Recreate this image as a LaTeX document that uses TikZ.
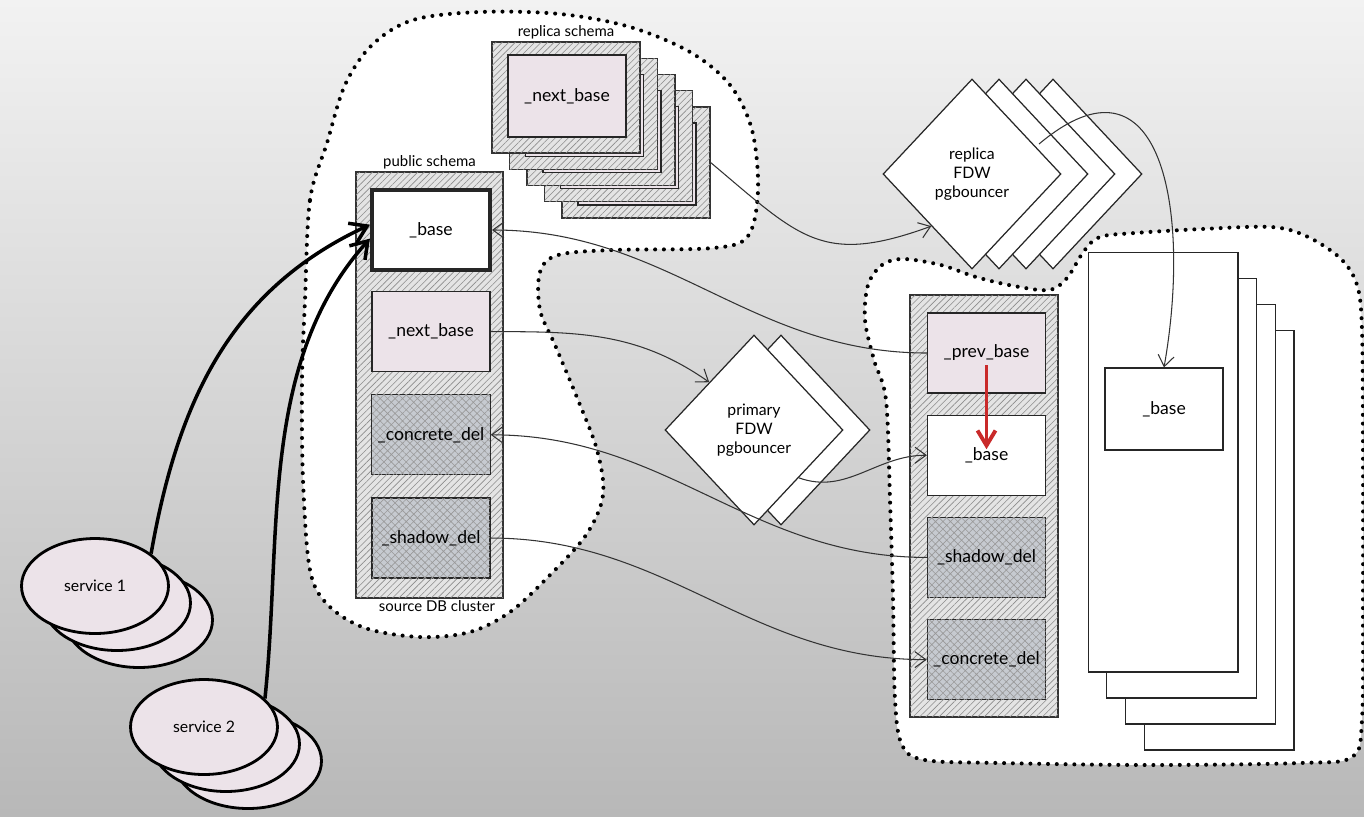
\documentclass[tikz,border=0pt]{standalone}
\usepackage{fontspec}
\setmainfont{Lato}
\usepackage{xcolor}
\usepackage{tikz}
\usetikzlibrary{shapes.geometric, arrows.meta, positioning, calc, patterns.meta}

\definecolor{bgtop}{RGB}{242,242,242}
\definecolor{bgbottom}{RGB}{184,184,184}
\definecolor{pinkfill}{RGB}{236,227,233}
\definecolor{hatchfill}{RGB}{228,228,228}
\definecolor{delfill}{RGB}{198,202,208}
\definecolor{redline}{RGB}{201,42,42}

\begin{document}
\begin{tikzpicture}[x=0.02cm, y=0.02cm, node distance=0.44cm, >=Straight Barb]
        \tikzstyle{cluster_style} = [draw=black, fill=white, line width=2.3pt, line cap=round, dash pattern=on 0pt off 5pt]
        \tikzstyle{column_style} = [rectangle, draw=black!80, line width=0.7pt, fill=hatchfill, postaction={pattern={Lines[angle=45, distance=2.6pt, line width=0.35pt]}, pattern color=black!45}]
        \tikzstyle{box_style} = [rectangle, draw=black!85, line width=0.7pt, minimum width=2.36cm, minimum height=1.6cm, text centered, font=\fontsize{10}{12}\selectfont]
        \tikzstyle{pink_style} = [box_style, fill=pinkfill]
        \tikzstyle{del_style} = [box_style, fill=delfill, postaction={pattern={Hatch[angle=45, distance=3pt, line width=0.35pt]}, pattern color=black!40}]
        \tikzstyle{fdw_style} = [diamond, draw=black!85, line width=0.7pt, fill=white, inner sep=0pt, minimum width=3.56cm, minimum height=3.8cm, align=center, font=\fontsize{9}{11}\selectfont]
        \tikzstyle{sheet_style} = [rectangle, draw=black!85, line width=0.6pt, fill=white, minimum width=3cm, minimum height=8.4cm]
        \tikzstyle{service_style} = [ellipse, draw=black, line width=1.6pt, fill=pinkfill, minimum width=2.94cm, minimum height=1.9cm, font=\fontsize{9}{11}\selectfont]
        \tikzstyle{title_style} = [inner sep=1pt, font=\fontsize{8.5}{10}\selectfont]
        \tikzstyle{link_style} = [draw=black!80, line width=0.6pt, -{Straight Barb[length=2.2mm, width=3.2mm]}]
        \tikzstyle{thick_arrow} = [draw=black, line width=2pt, -{Straight Barb[length=3.2mm, width=4.2mm]}]
        \tikzstyle{red_arrow} = [draw=redline, line width=2.2pt, -{Straight Barb[length=3mm, width=3.6mm]}]

        % Background
        \shade [top color=bgtop, bottom color=bgbottom] (0,0) rectangle (1364,-816);
        \useasboundingbox (0,0) rectangle (1364,-816);

        % Source cluster outline
        \draw [cluster_style] plot [smooth cycle, tension=0.55] coordinates {(305,-300) (310,-200) (327,-143) (345,-85) (372,-45) (413,-20) (480,-12) (560,-14) (630,-27) (690,-52) (730,-85) (752,-130) (758,-190) (748,-236) (713,-248) (613,-250) (558,-255) (540,-272) (540,-310) (555,-345) (578,-400) (597,-450) (603,-495) (586,-535) (548,-577) (510,-612) (470,-632) (420,-637) (365,-628) (328,-605) (310,-570) (303,-480) (302,-380)};

        % Target cluster outline
        \draw [cluster_style] plot [smooth cycle, tension=0.55] coordinates {(868,-285) (882,-265) (903,-259) (941,-265) (976,-277) (1014,-286) (1049,-290) (1067,-278) (1084,-251) (1100,-237) (1135,-233) (1202,-229) (1271,-227) (1306,-236) (1340,-258) (1357,-285) (1362,-330) (1363,-450) (1363,-600) (1362,-720) (1352,-757) (1300,-763) (1150,-765) (1000,-763) (925,-760) (902,-745) (895,-700) (893,-600) (890,-500) (886,-400) (874,-360) (865,-320)};

        % Public schema column
        \node (pcol) [column_style, minimum width=2.94cm, minimum height=8.52cm] at (429.5,-385) {};
        \node (pubtitle) [title_style, above=0pt of pcol] {public schema};
        \node (srctitle) [title_style, below=0pt of pcol, xshift=0.15cm] {source DB cluster};
        \node (pbase) [box_style, fill=white, line width=2.3pt] at (431,-230) {\_base};
        \node (pnext) [pink_style, below=0.38cm of pbase] {\_next\_base};
        \node (pconcrete) [del_style, below=of pnext] {\_concrete\_del};
        \node (pshadow) [del_style, below=of pconcrete] {\_shadow\_del};

        % Replica schema stack
        \node (rbox4) [column_style, minimum width=2.96cm, minimum height=2.22cm] at (636,-162.5) {};
        \node (rin4) [pink_style, minimum height=1.64cm] at (637,-164) {};
        \node (rbox3) [column_style, minimum width=2.96cm, minimum height=2.22cm] at (618.5,-146.25) {};
        \node (rin3) [pink_style, minimum height=1.64cm] at (619.5,-147.75) {};
        \node (rbox2) [column_style, minimum width=2.96cm, minimum height=2.22cm] at (601,-130) {};
        \node (rin2) [pink_style, minimum height=1.64cm] at (602,-131.5) {};
        \node (rbox1) [column_style, minimum width=2.96cm, minimum height=2.22cm] at (583.5,-113.75) {};
        \node (rin1) [pink_style, minimum height=1.64cm] at (584.5,-115.25) {};
        \node (rbox0) [column_style, minimum width=2.96cm, minimum height=2.22cm] at (566,-97.5) {};
        \node (rnext) [pink_style, minimum height=1.64cm] at (567,-96) {\_next\_base};
        \node (reptitle) [title_style, above=0pt of rbox0] {replica schema};

        % Target schema column
        \node (tcol) [column_style, minimum width=2.96cm, minimum height=8.44cm] at (984,-506) {};
        \node (tprev) [pink_style] at (986.5,-353) {\_prev\_base};
        \node (tbase) [box_style, fill=white, below=0.42cm of tprev] {\_base};
        \node (tshadow) [del_style, below=0.42cm of tbase] {\_shadow\_del};
        \node (tconcrete) [del_style, below=0.42cm of tshadow] {\_concrete\_del};

        % Replica sheets
        \node (sheet3) [sheet_style] at (1219,-540) {};
        \node (sheet2) [sheet_style] at (1200.4,-514) {};
        \node (sheet1) [sheet_style] at (1181.7,-488) {};
        \node (sheet0) [sheet_style] at (1163,-462) {};
        \node (rbase) [box_style, fill=white, minimum height=1.64cm] at (1164,-409) {\_base};

        % FDW pgbouncers
        \node (prim1) [fdw_style] at (781,-430) {};
        \node (prim) [fdw_style] at (754,-430) {primary\\FDW\\pgbouncer};
        \node (rep3) [fdw_style] at (1053,-174) {};
        \node (rep2) [fdw_style] at (1026,-174) {};
        \node (rep1) [fdw_style] at (999,-174) {};
        \node (rep) [fdw_style] at (972,-174) {replica\\FDW\\pgbouncer};
        \coordinate (repout) at (1039,-144);

        % Links between schemas
        \draw [link_style] (tprev.west) to[out=180, in=0] (pbase.east);
        \draw [link_style] (pnext.east) to[out=0, in=145] (prim.north west);
        \draw [link_style] (prim.south east) to[out=-20, in=180] (tbase.west);
        \draw [link_style] (tshadow.west) to[out=180, in=0] (pconcrete.east);
        \draw [link_style] (pshadow.east) to[out=0, in=180] (tconcrete.west);
        \draw [link_style] (rbox4.east) to[out=-40, in=200, looseness=1.3] (rep.232);
        \draw [link_style] (repout) to[out=40, in=80, looseness=1.6] (rbase.north);

        % Swap
        \draw [red_arrow] ([yshift=-0.24cm]tprev.center) -- ([yshift=0.12cm]tbase.center);

        % Services
        \node (svc1b) [service_style] at (139,-620) {};
        \node (svc1a) [service_style] at (117,-603) {};
        \node (svc1) [service_style] at (95,-586) {service 1};
        \node (svc2b) [service_style] at (248,-761) {};
        \node (svc2a) [service_style] at (226,-744) {};
        \node (svc2) [service_style] at (204,-727) {service 2};

        \draw [thick_arrow] (svc1.30) to[out=80, in=205] (pbase.175);
        \draw [thick_arrow] (svc2.25) to[out=84, in=228, looseness=0.9] (pbase.188);
    \end{tikzpicture}
\end{document}
